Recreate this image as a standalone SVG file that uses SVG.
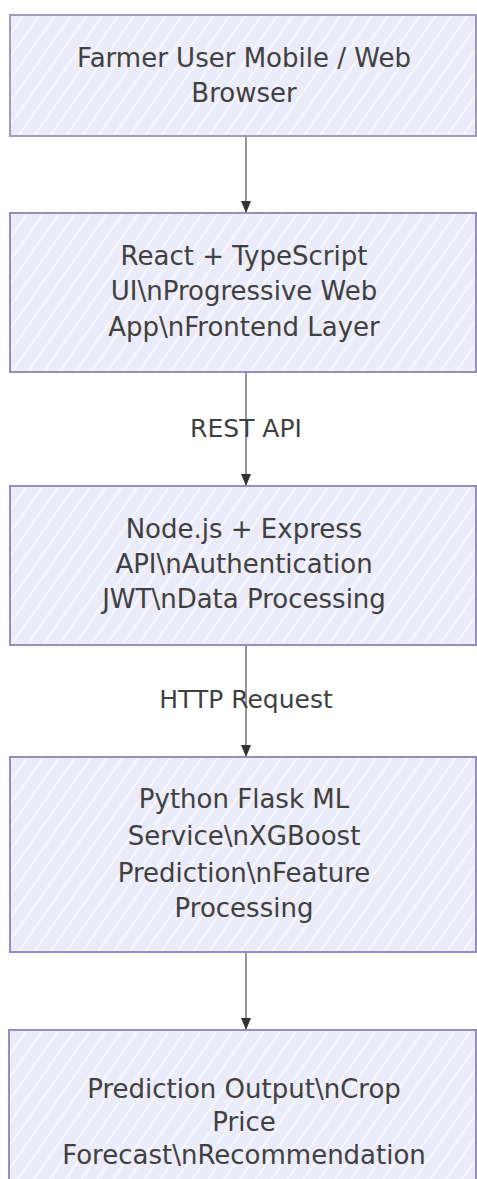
<svg xmlns="http://www.w3.org/2000/svg" width="477" height="1179" viewBox="0 0 477 1179">
<defs>
<pattern id="hatch" width="13" height="13" patternUnits="userSpaceOnUse" patternTransform="rotate(35)">
<rect width="13" height="13" fill="#ebebfa"/>
<line x1="2" y1="0" x2="2" y2="13" stroke="#ffffff" stroke-width="1.5" stroke-opacity="0.75"/>
</pattern>
<marker id="arrow" viewBox="0 0 12 10" refX="11" refY="5" markerWidth="12" markerHeight="10" orient="auto" markerUnits="userSpaceOnUse">
<path d="M0,0 L12,5 L0,10 z" fill="#333333"/>
</marker>
<style>
.box{fill:url(#hatch);stroke:#978dbf;stroke-width:2}
.t{font-family:"DejaVu Sans",Verdana,sans-serif;font-size:26px;fill:#404040;text-anchor:middle}
.lbl{font-family:"DejaVu Sans",Verdana,sans-serif;font-size:25px;fill:#404040;text-anchor:middle}
.edge{stroke:#666666;stroke-width:1.4;fill:none}
</style>
</defs>
<g id="connectors">
<line class="edge" x1="246" y1="136" x2="246" y2="212" marker-end="url(#arrow)"/>
<line class="edge" x1="246" y1="372" x2="246" y2="485" marker-end="url(#arrow)"/>
<text class="lbl" x="246" y="437">REST API</text>
<line class="edge" x1="246" y1="645" x2="246" y2="756" marker-end="url(#arrow)"/>
<text class="lbl" x="246" y="708">HTTP Request</text>
<line class="edge" x1="246" y1="952" x2="246" y2="1029" marker-end="url(#arrow)"/>
</g>
<g id="node1">
<rect class="box" x="10" y="15" width="466" height="121" style="stroke:#a19cb4"/>
<text class="t" x="244" y="67">Farmer User Mobile / Web</text>
<text class="t" x="244" y="102">Browser</text>
</g>
<g id="node2">
<rect class="box" x="10" y="213" width="466" height="159"/>
<text class="t" x="244" y="265">React + TypeScript</text>
<text class="t" x="244" y="300">UI\nProgressive Web</text>
<text class="t" x="244" y="336">App\nFrontend Layer</text>
</g>
<g id="node3">
<rect class="box" x="10" y="486" width="466" height="159"/>
<text class="t" x="244" y="538">Node.js + Express</text>
<text class="t" x="244" y="573">API\nAuthentication</text>
<text class="t" x="244" y="608">JWT\nData Processing</text>
</g>
<g id="node4">
<rect class="box" x="10" y="757" width="466" height="195"/>
<text class="t" x="244" y="808">Python Flask ML</text>
<text class="t" x="244" y="845">Service\nXGBoost</text>
<text class="t" x="244" y="882">Prediction\nFeature</text>
<text class="t" x="244" y="917">Processing</text>
</g>
<g id="node5">
<rect class="box" x="9" y="1030" width="467" height="160"/>
<text class="t" x="244" y="1098">Prediction Output\nCrop</text>
<text class="t" x="244" y="1131">Price</text>
<text class="t" x="244" y="1164">Forecast\nRecommendation</text>
</g>
</svg>
